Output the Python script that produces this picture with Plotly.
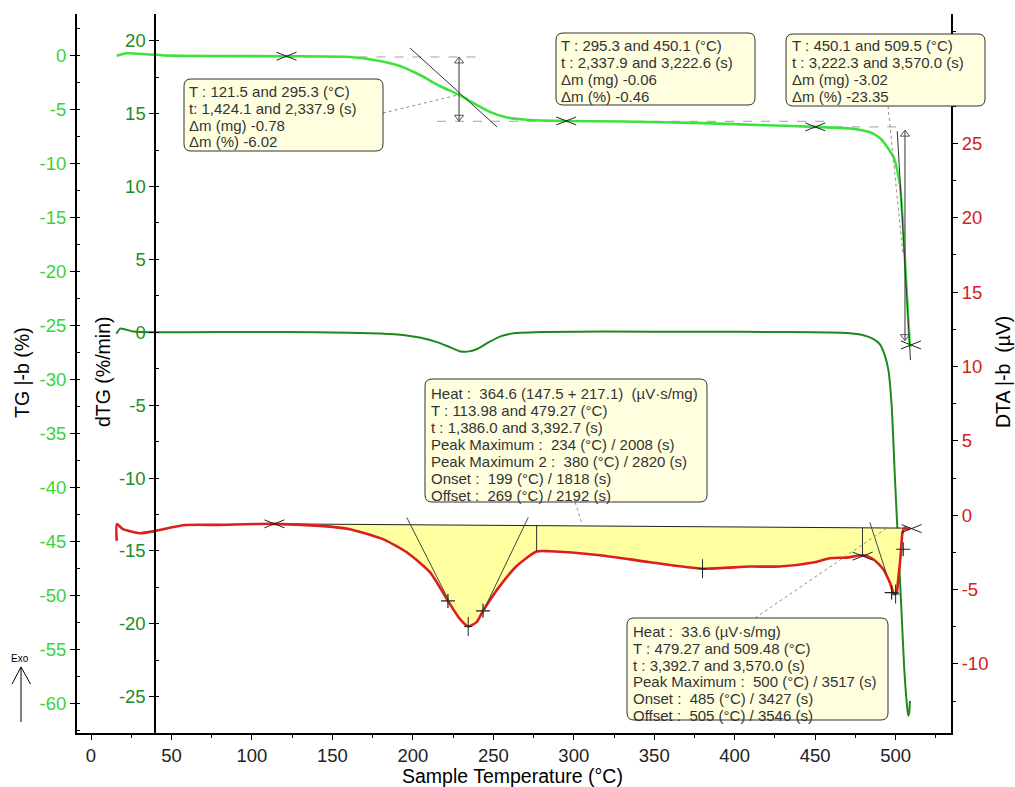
import plotly.graph_objects as go

# ---------------- data ----------------
tg_temp = [16.0, 22.2, 34.6, 49.0, 80.0, 121.5, 160.9, 179.6, 192.0, 204.4, 216.8, 228.7,
           238.6, 247.9, 257.2, 272.8, 295.3, 330.0, 380.0, 420.0, 450.1, 471.6, 484.0,
           490.0, 495.0, 499.0, 500.5, 502.7, 504.5, 506.0, 507.5, 508.9]
tg_pct = [0.0, 0.22, 0.13, 0.0, -0.03, -0.05, -0.12, -0.49, -0.95, -1.79, -2.81, -3.64,
          -4.47, -5.21, -5.68, -5.96, -6.05, -6.1, -6.25, -6.45, -6.6, -6.75, -7.1,
          -7.6, -8.5, -9.5, -10.3, -12.0, -15.5, -19.5, -23.5, -27.0]

dtg_temp = [15.8, 18.2, 26.3, 40, 80, 120, 160, 180, 195, 205, 215, 222, 229, 234, 240,
            247, 254, 260, 267, 280, 320, 380, 430, 470, 480, 486, 490, 493, 495.5, 497.5,
            499.6, 501.5, 503.5, 505.3, 506.8, 507.8, 508.4, 508.9]
dtg_val = [-0.1, 0.25, 0.05, 0.0, 0.02, 0.02, -0.03, -0.08, -0.2, -0.38, -0.68, -0.98,
           -1.3, -1.33, -1.15, -0.7, -0.3, -0.12, -0.04, 0.02, 0.05, 0.03, 0.02, -0.05,
           -0.2, -0.45, -0.8, -1.5, -2.6, -5.0, -10.1, -14.4, -18.8, -23.0, -25.3, -26.3,
           -26.1, -25.3]

dta_temp = [16.0, 16.1, 19.9, 30.4, 39.8, 57.2, 78.1, 113.1, 142.3, 160.9, 181.4, 196.2,
            210.6, 221.8, 229.3, 234.4, 239.6, 243.6, 254.1, 264.5, 276.9, 285.2, 316.3,
            347.3, 380.0, 409.5, 428.0, 448.8, 459.2, 469.5, 479.9, 486.1, 492.3, 496.4,
            499.1, 500.6, 501.6, 503.1, 504.3, 505.8, 506.8, 508.9]
dta_uv = [-1.73, -0.60, -0.94, -1.21, -1.06, -0.67, -0.65, -0.58, -0.72, -0.94, -1.61,
          -2.49, -3.83, -5.76, -6.99, -7.48, -7.19, -6.43, -4.75, -3.41, -2.44, -2.42,
          -2.69, -3.16, -3.60, -3.45, -3.45, -3.18, -2.89, -2.85, -2.69, -2.96, -3.63,
          -4.53, -5.31, -5.20, -4.30, -2.73, -1.16, -0.83, -0.94, -0.87]

x_ticks = [0, 50, 100, 150, 200, 250, 300, 350, 400, 450, 500]
tg_ticks = [-60, -55, -50, -45, -40, -35, -30, -25, -20, -15, -10, -5, 0]
dtg_ticks = [-25, -20, -15, -10, -5, 0, 5, 10, 15, 20]
dta_ticks = [-10, -5, 0, 5, 10, 15, 20, 25]

# analysis marks (values)
tg_step_T = [121.5, 295.3, 450.1, 509.5]
tg_step_val = [-0.05, -6.05, -6.6, -26.8]
tg_tangents = [(198.2, 0.71, 252.3, -6.6), (501.0, -7.0, 509.2, -28.2)]
tg_dashes = [(121.5, 240.0, -0.12), (215.0, 457.0, -6.08), (450.1, 506.0, -6.6)]
tg_arrows = [(228.7, -0.12, -6.08), (505.8, -6.9, -26.4)]

dta_base_T = [113.1, 479.3, 508.9]
dta_base_val = [-0.58, -0.87, -0.87]
dta_x_T = [113.98, 479.5, 509.9]
dta_x_val = [-0.58, -2.75, -0.9]
dta_plus_T = [221.8, 243.6, 497.5, 504.7]
dta_plus_val = [-5.76, -6.43, -5.2, -2.29]
dta_peak_T = [234.4, 380.0, 500.0]
dta_peak_val = [-7.48, -3.6, -5.3]
dta_tangents = [(196.2, -0.15, 223.0, -5.87), (271.7, -0.15, 243.8, -6.43),
                (484.0, -0.49, 494.4, -3.97)]
dta_splits = [(276.9, -0.65, -2.44), (479.4, -0.87, -2.72)]

box_texts = [
    ["T : 121.5 and 295.3 (°C)", "t: 1,424.1 and 2,337.9 (s)", "Δm (mg) -0.78", "Δm (%) -6.02"],
    ["T : 295.3 and 450.1 (°C)", "t : 2,337.9 and 3,222.6 (s)", "Δm (mg) -0.06", "Δm (%) -0.46"],
    ["T : 450.1 and 509.5 (°C)", "t : 3,222.3 and 3,570.0 (s)", "Δm (mg) -3.02", "Δm (%) -23.35"],
    ["Heat :  364.6 (147.5 + 217.1)  (µV·s/mg)", "T : 113.98 and 479.27 (°C)",
     "t : 1,386.0 and 3,392.7 (s)", "Peak Maximum :  234 (°C) / 2008 (s)",
     "Peak Maximum 2 :  380 (°C) / 2820 (s)", "Onset :  199 (°C) / 1818 (s)",
     "Offset :  269 (°C) / 2192 (s)"],
    ["Heat :  33.6 (µV·s/mg)", "T : 479.27 and 509.48 (°C)", "t : 3,392.7 and 3,570.0 (s)",
     "Peak Maximum :  500 (°C) / 3517 (s)", "Onset :  485 (°C) / 3427 (s)",
     "Offset :  505 (°C) / 3546 (s)"],
]

# ---------------- layout geometry ----------------
W, H = 1015, 787
ML, MR, MT, MB = 77, 64, 14, 54
PW, PH = W - ML - MR, H - MT - MB
X_RANGE = [-8.7, 534.4]
TG_RANGE = [-62.75, 3.86]
DTG_RANGE = [-27.49, 21.83]
DTA_RANGE = [-14.64, 33.69]
SX = (X_RANGE[1] - X_RANGE[0]) / PW
S_TG = (TG_RANGE[1] - TG_RANGE[0]) / PH
S_DTA = (DTA_RANGE[1] - DTA_RANGE[0]) / PH

FONT = "Arial, Liberation Sans, sans-serif"
C_TG = "#3ee23e"
C_TG_LBL = "#3ad23a"
C_DTG = "#1d8a1d"
C_DTG_LBL = "#228b22"
C_DTA = "#dc1e1e"
C_DTA_LBL = "#d42020"
SMOOTH = 0.6


def pxx(px):
    return (px - ML) / PW


def pxy(py):
    return (MT + PH - py) / PH


def labels(vals):
    return [str(v) for v in vals]  # plain hyphen minus, as in the reference


def xmarks(Ts, vals, sy, hw=10, hh=4):
    xs, ys = [], []
    for t, v in zip(Ts, vals):
        dx, dy = hw * SX, hh * sy
        xs += [t - dx, t + dx, None, t - dx, t + dx, None]
        ys += [v + dy, v - dy, None, v - dy, v + dy, None]
    return xs, ys


fig = go.Figure()

# yellow peak areas between baseline and DTA curve
fig.add_trace(go.Scatter(x=dta_base_T, y=dta_base_val, yaxis="y3", mode="lines",
                         line=dict(width=0), hoverinfo="skip"))
fill_T = [t for t in dta_temp if t >= 113.0]
fill_v = [v for t, v in zip(dta_temp, dta_uv) if t >= 113.0]
fig.add_trace(go.Scatter(x=fill_T, y=fill_v, yaxis="y3", mode="lines", fill="tonexty",
                         fillcolor="rgb(255,255,160)",
                         line=dict(width=0, shape="spline", smoothing=SMOOTH), hoverinfo="skip"))
fig.add_trace(go.Scatter(x=dta_base_T, y=dta_base_val, yaxis="y3", mode="lines",
                         line=dict(color="#222", width=1)))

# TG dashed helper lines
for a, b, v in tg_dashes:
    fig.add_trace(go.Scatter(x=[a, b], y=[v, v], mode="lines",
                             line=dict(color="#a0a0a0", width=1, dash="dash")))

# curves
fig.add_trace(go.Scatter(x=tg_temp, y=tg_pct, mode="lines",
                         line=dict(color=C_TG, width=2.6, shape="spline", smoothing=SMOOTH)))
fig.add_trace(go.Scatter(x=dtg_temp, y=dtg_val, yaxis="y2", mode="lines",
                         line=dict(color=C_DTG, width=2, shape="spline", smoothing=SMOOTH)))
fig.add_trace(go.Scatter(x=dta_temp, y=dta_uv, yaxis="y3", mode="lines",
                         line=dict(color=C_DTA, width=2.6, shape="spline", smoothing=SMOOTH)))

# TG step markers
xs, ys = xmarks(tg_step_T, tg_step_val, S_TG)
fig.add_trace(go.Scatter(x=xs, y=ys, mode="lines", line=dict(color="#222", width=1)))
# TG double arrows
for t, a, b in tg_arrows:
    fig.add_trace(go.Scatter(x=[t, t], y=[a, b], mode="lines",
                             line=dict(color="#555", width=1.2)))
    fig.add_trace(go.Scatter(x=[t, t], y=[a - 4 * S_TG, b + 4 * S_TG], mode="markers",
                             marker=dict(symbol=["triangle-up-open", "triangle-down-open"],
                                         size=8, color="#555", line=dict(width=1))))

# DTA markers
xs, ys = xmarks(dta_x_T, dta_x_val, S_DTA)
fig.add_trace(go.Scatter(x=xs, y=ys, yaxis="y3", mode="lines", line=dict(color="#222", width=1)))
fig.add_trace(go.Scatter(x=dta_plus_T, y=dta_plus_val, yaxis="y3", mode="markers",
                         marker=dict(symbol="cross-thin", size=10, color="#222",
                                     line=dict(width=1.2, color="#222"))))
pxs, pys = [], []
for t, v in zip(dta_peak_T, dta_peak_val):
    pxs += [t, t, None, t - 4 * SX, t + 4 * SX, None]
    pys += [v + 9.5 * S_DTA, v - 9.5 * S_DTA, None, v, v, None]
fig.add_trace(go.Scatter(x=pxs, y=pys, yaxis="y3", mode="lines", line=dict(color="#222", width=1)))
for t, a, b in dta_splits:
    fig.add_trace(go.Scatter(x=[t, t], y=[a, b], yaxis="y3", mode="lines",
                             line=dict(color="#333", width=1)))

shapes = []
for x0, y0, x1, y1 in tg_tangents:
    shapes.append(dict(type="line", xref="x", yref="y", x0=x0, y0=y0, x1=x1, y1=y1,
                       line=dict(color="#333", width=1)))
for x0, y0, x1, y1 in dta_tangents:
    shapes.append(dict(type="line", xref="x", yref="y3", x0=x0, y0=y0, x1=x1, y1=y1,
                       line=dict(color="#444", width=1)))

# leader lines (pixel positions of the call-out boxes)
for (ax, ay), (bx, by) in [((383, 113), (458, 95)), ((888, 106), (903, 255)),
                           ((575, 502), (583, 527)), ((755, 618), (887, 528))]:
    shapes.append(dict(type="line", xref="paper", yref="paper", x0=pxx(ax), y0=pxy(ay),
                       x1=pxx(bx), y1=pxy(by), line=dict(color="#9a8a8a", width=1, dash="dot")))

# call-out boxes
boxes = [(184, 383, 79, 151), (556, 755, 33, 105), (786, 985, 34, 106),
         (425, 707, 379, 502), (627, 888, 618, 720)]
text_pos = [(187, 91.7, 16.7), (559, 45.7, 16.8), (790, 45.7, 16.8),
            (429, 393.3, 16.95), (631, 631.7, 16.7)]
annotations = []
R = 7
for (l, r, t, b), (tx, ty, dy), lines in zip(boxes, text_pos, box_texts):
    xl, xr, yt, yb = pxx(l), pxx(r), pxy(t), pxy(b)
    rx, ry = R / PW, R / PH
    path = (f"M {xl+rx},{yt} L {xr-rx},{yt} Q {xr},{yt} {xr},{yt-ry} L {xr},{yb+ry} "
            f"Q {xr},{yb} {xr-rx},{yb} L {xl+rx},{yb} Q {xl},{yb} {xl},{yb+ry} "
            f"L {xl},{yt-ry} Q {xl},{yt} {xl+rx},{yt} Z")
    shapes.append(dict(type="path", xref="paper", yref="paper", path=path,
                       fillcolor="rgb(255,255,224)", line=dict(color="#333", width=1)))
    for i, s in enumerate(lines):
        annotations.append(dict(xref="paper", yref="paper", x=pxx(tx), y=pxy(ty + i * dy),
                                xanchor="left", yanchor="middle", showarrow=False,
                                text=s.replace("  ", " \u00a0"),
                                font=dict(family=FONT, size=15, color="#333")))

# Exo arrow
shapes.append(dict(type="line", xref="paper", yref="paper", x0=pxx(21), y0=pxy(722),
                   x1=pxx(21), y1=pxy(667), line=dict(color="black", width=1)))
shapes.append(dict(type="path", xref="paper", yref="paper",
                   path=f"M {pxx(12)},{pxy(684)} L {pxx(21)},{pxy(667)} L {pxx(30.5)},{pxy(684)}",
                   line=dict(color="black", width=1)))
annotations.append(dict(xref="paper", yref="paper", x=pxx(20), y=pxy(658), text="Exo",
                        xanchor="center", yanchor="middle",
                        showarrow=False, font=dict(family=FONT, size=10, color="black")))

# axis titles
for txt, px, ang in [("TG |-b (%)", 22, -90), ("dTG (%/min)", 103, -90),
                     ("DTA |-b \u00a0(µV)", 1003, -90)]:
    annotations.append(dict(xref="paper", yref="paper", x=pxx(px), y=pxy(372), text=txt,
                            textangle=ang, showarrow=False, xanchor="center", yanchor="middle",
                            font=dict(family=FONT, size=19.5, color="black")))
annotations.append(dict(xref="paper", yref="paper", x=pxx(512), y=pxy(776),
                        text="Sample Temperature (°C)", showarrow=False,
                        xanchor="center", yanchor="middle",
                        font=dict(family=FONT, size=19.5, color="black")))

axis_common = dict(showgrid=False, zeroline=False, showline=True, linecolor="black",
                   linewidth=2, ticks="outside", ticklen=5, tickwidth=1, tickcolor="black",
                   automargin=False, tickmode="array")

fig.update_layout(
    width=W, height=H, margin=dict(l=ML, r=MR, t=MT, b=MB),
    paper_bgcolor="white", plot_bgcolor="white", showlegend=False,
    font=dict(family=FONT),
    xaxis=dict(range=X_RANGE, tickvals=x_ticks, ticktext=labels(x_ticks),
               tickfont=dict(size=18.5, color="#222"),
               minor=dict(dtick=25, tick0=0, ticks="outside", ticklen=3, tickcolor="black"),
               **axis_common),
    yaxis=dict(range=TG_RANGE, tickvals=tg_ticks, ticktext=labels(tg_ticks), side="left",
               tickfont=dict(size=18.5, color=C_TG_LBL),
               minor=dict(dtick=2.5, tick0=0, ticks="inside", ticklen=3, tickcolor="black"),
               **axis_common),
    yaxis2=dict(range=DTG_RANGE, tickvals=dtg_ticks, ticktext=labels(dtg_ticks), overlaying="y",
                anchor="free", position=(40 - X_RANGE[0]) / (X_RANGE[1] - X_RANGE[0]),
                side="left", tickfont=dict(size=18.5, color=C_DTG_LBL),
                minor=dict(dtick=2.5, tick0=0, ticks="inside", ticklen=3, tickcolor="black"),
                **axis_common),
    yaxis3=dict(range=DTA_RANGE, tickvals=dta_ticks, ticktext=labels(dta_ticks), overlaying="y",
                anchor="x", side="right", tickfont=dict(size=18.5, color=C_DTA_LBL),
                minor=dict(dtick=2.5, tick0=0, ticks="outside", ticklen=3, tickcolor="black"),
                **axis_common),
    shapes=shapes, annotations=annotations,
)

fig.write_html("out.html", config={"displayModeBar": False},
               post_script="document.body.style.margin='0';")
